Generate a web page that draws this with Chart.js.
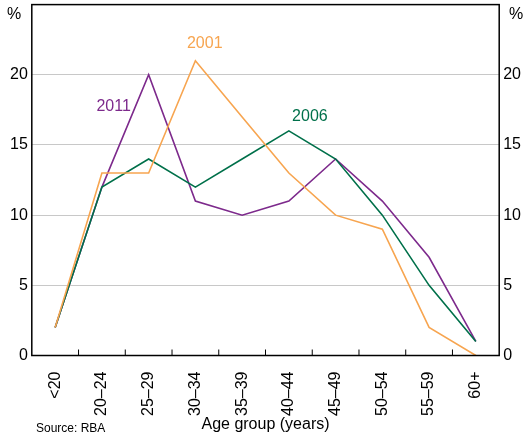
<!DOCTYPE html>
<html lang="en">
<head>
<meta charset="UTF-8">
<title>Age group chart</title>
<script src="https://cdn.jsdelivr.net/npm/chart.js"></script>
<style>
  body { margin: 0; background: #fff; font-family: Arial, "Liberation Sans", sans-serif; overflow: hidden; }
  #wrap { position: relative; width: 530px; height: 439px; overflow: hidden; }
  #chart1 { position: absolute; left: 0; top: -9px; }
  #source { position: absolute; left: 36px; top: 421px; font-size: 12px; color: #000; }
</style>
</head>
<body>
<div id="wrap">
  <canvas id="chart1" width="530" height="448"></canvas>
  <div id="source">Source: RBA</div>
</div>
<script>
// categories and series
var ageGroups = ['<20', '20–24', '25–29', '30–34', '35–39', '40–44', '45–49', '50–54', '55–59', '60+'];
var share2001 = [2, 13, 13, 21, 17, 13, 10, 9, 2, 0];
var share2006 = [2, 12, 14, 12, 14, 16, 14, 10, 5, 1];
var share2011 = [2, 12, 20, 11, 10, 11, 14, 11, 7, 1];
var yTicks = [0, 5, 10, 15, 20];

var orange = '#f7a550', green = '#00704a', purple = '#7d2a8c';

// series labels, anchored to category/value
var seriesLabels = [
    { text: '2001', color: orange, cat: 3.2, val: 22.2 },
    { text: '2011', color: purple, cat: 1.25, val: 17.7 },
    { text: '2006', color: green, cat: 5.45, val: 17 }
];

var boxPlugin = {
    id: 'box',
    afterDraw: function (chart) {
        var ctx = chart.ctx, a = chart.chartArea, x = chart.scales.x, y = chart.scales.y;
        ctx.save();
        ctx.strokeStyle = '#000';
        ctx.lineWidth = 1.5;
        ctx.strokeRect(a.left, a.top, a.right - a.left, a.bottom - a.top);
        // x tick marks between categories, pointing up
        ctx.lineWidth = 1;
        for (var i = 1; i < ageGroups.length; i++) {
            var px = (x.getPixelForValue(i - 1) + x.getPixelForValue(i)) / 2;
            ctx.beginPath();
            ctx.moveTo(px, a.bottom);
            ctx.lineTo(px, a.bottom - 6);
            ctx.stroke();
        }
        ctx.font = '16px Arial, "Liberation Sans", sans-serif';
        ctx.textAlign = 'center';
        ctx.textBaseline = 'middle';
        seriesLabels.forEach(function (l) {
            ctx.fillStyle = l.color;
            ctx.fillText(l.text, x.getPixelForValue(l.cat), y.getPixelForValue(l.val));
        });
        ctx.fillStyle = '#000';
        ctx.fillText('%', 14, a.top + 10);
        ctx.fillText('%', 516, a.top + 10);
        ctx.fillText('Age group (years)', (a.left + a.right) / 2, 434);
        ctx.restore();
    }
};

function makeSet(label, data, color) {
    return { label: label, data: data, borderColor: color, borderWidth: 1.6,
             pointRadius: 0, tension: 0, fill: false };
}

var yOpts = function (pos) {
    return {
        position: pos, min: 0, max: 25,
        afterBuildTicks: function (s) { s.ticks = yTicks.map(function (v) { return { value: v }; }); },
        grid: { display: pos === 'left', color: '#c8c8c8', drawTicks: false },
        border: { display: false },
        ticks: { color: '#000', font: { size: 16, family: 'Arial, "Liberation Sans", sans-serif' }, padding: 4 }
    };
};

new Chart(document.getElementById('chart1'), {
    type: 'line',
    data: {
        labels: ageGroups,
        datasets: [
            makeSet('2001', share2001, orange),
            makeSet('2006', share2006, green),
            makeSet('2011', share2011, purple)
        ]
    },
    options: {
        responsive: false,
        animation: false,
        layout: { padding: { top: 0, left: 6, right: 5, bottom: 15 } },
        plugins: { legend: { display: false }, tooltip: { enabled: false } },
        scales: {
            x: {
                offset: true,
                grid: { display: false },
                border: { display: false },
                ticks: { color: '#000', maxRotation: 90, minRotation: 90, autoSkip: false,
                         font: { size: 16, family: 'Arial, "Liberation Sans", sans-serif' }, padding: 8 }
            },
            y: yOpts('left'),
            y2: yOpts('right')
        }
    },
    plugins: [boxPlugin]
});
</script>
</body>
</html>
